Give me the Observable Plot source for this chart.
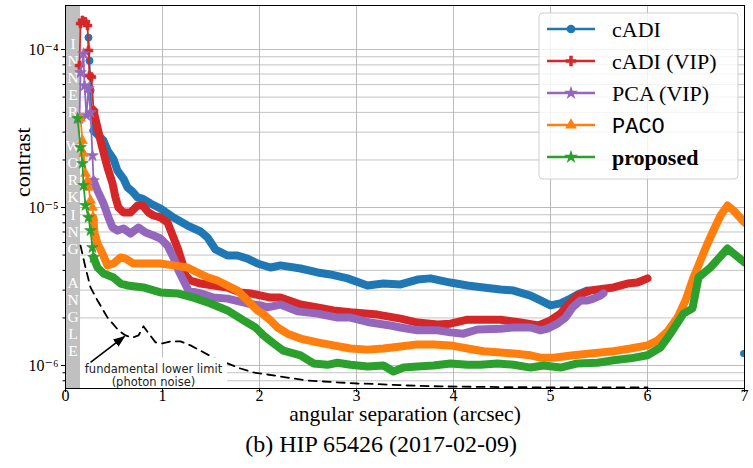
<!DOCTYPE html>
<html><head><meta charset="utf-8">
<script src="https://cdn.jsdelivr.net/npm/d3@7"></script>
<script src="https://cdn.jsdelivr.net/npm/@observablehq/plot@0.6"></script>
<style>body{margin:0;background:#fff}</style>
</head><body><div id="chart"></div>
<script>
// ---------- data ----------
const seriesNames = ["cADI", "cADI (VIP)", "PCA (VIP)", "PACO", "proposed"];
const seriesColors = ["#1f77b4", "#d62728", "#9467bd", "#ff7f0e", "#2ca02c"];
const seriesSymbols = ["circle", "cross", "star", "triangle", "star"];

const cadi = [[0.237,1.19e-4],[0.247,8.5e-5],[0.258,5.5e-5],[0.268,3.94e-5],[0.289,3.07e-5],[0.392,2.65e-5],[0.433,2.30e-5],[0.495,2.02e-5],[0.536,1.71e-5],[0.598,1.52e-5],[0.639,1.34e-5],[0.691,1.26e-5],[0.742,1.16e-5],[0.794,1.14e-5],[0.876,1.06e-5],[0.979,9.86e-6],[1.113,8.65e-6],[1.258,7.69e-6],[1.392,7.05e-6],[1.464,6.46e-6],[1.546,5.42e-6],[1.67,4.97e-6],[1.773,4.97e-6],[1.876,4.75e-6],[1.979,4.42e-6],[2.113,4.17e-6],[2.216,4.30e-6],[2.423,4.11e-6],[2.598,3.88e-6],[2.73,3.77e-6],[2.907,3.56e-6],[3.113,3.21e-6],[3.278,3.30e-6],[3.454,3.26e-6],[3.629,3.50e-6],[3.763,3.56e-6],[3.969,3.35e-6],[4.144,3.21e-6],[4.309,3.12e-6],[4.485,3.03e-6],[4.619,2.98e-6],[4.794,2.77e-6],[4.897,2.58e-6],[5.0,2.40e-6],[5.103,2.47e-6],[5.206,2.65e-6],[5.3,2.85e-6],[5.381,2.98e-6]];
const cadiStray = [[6.99,1.19e-6]];

const cadiVip = [[0.144,7.92e-5],[0.155,1.46e-4],[0.175,1.53e-4],[0.206,1.50e-4],[0.227,1.42e-4],[0.237,9.86e-5],[0.247,6.84e-5],[0.268,6.7e-5],[0.289,4.11e-5],[0.33,3.2e-5],[0.361,2.65e-5],[0.392,2.23e-5],[0.433,1.79e-5],[0.485,1.42e-5],[0.515,1.16e-5],[0.546,1.0e-5],[0.598,9.3e-6],[0.67,9.3e-6],[0.742,1.03e-5],[0.794,1.03e-5],[0.856,9.3e-6],[0.907,8.9e-6],[0.979,8.65e-6],[1.052,8.04e-6],[1.113,6.46e-6],[1.165,5.34e-6],[1.206,4.42e-6],[1.237,3.71e-6],[1.289,3.45e-6],[1.392,3.30e-6],[1.526,3.21e-6],[1.67,3.12e-6],[1.804,2.90e-6],[1.907,2.86e-6],[2.113,2.69e-6],[2.216,2.69e-6],[2.423,2.43e-6],[2.598,2.33e-6],[2.763,2.23e-6],[2.938,2.17e-6],[3.216,2.10e-6],[3.454,1.98e-6],[3.629,1.87e-6],[3.835,1.82e-6],[3.969,1.84e-6],[4.144,1.95e-6],[4.485,1.95e-6],[4.691,1.87e-6],[4.876,1.79e-6],[5.0,1.93e-6],[5.103,2.13e-6],[5.175,2.40e-6],[5.278,2.77e-6],[5.412,2.98e-6],[5.649,3.12e-6],[5.794,3.30e-6],[5.897,3.35e-6],[6.0,3.56e-6]];

const pcaVip = [[0.144,3.66e-5],[0.155,7.14e-5],[0.186,9.4e-5],[0.196,5.9e-5],[0.216,3.82e-5],[0.237,5.66e-5],[0.258,3.99e-5],[0.278,2.13e-5],[0.289,1.48e-5],[0.33,1.28e-5],[0.392,1.06e-5],[0.443,8.65e-6],[0.485,7.47e-6],[0.536,7.15e-6],[0.598,7.36e-6],[0.67,6.84e-6],[0.753,7.47e-6],[0.825,6.95e-6],[0.907,6.65e-6],[0.979,6.37e-6],[1.052,5.74e-6],[1.113,4.83e-6],[1.165,3.99e-6],[1.216,3.45e-6],[1.268,2.98e-6],[1.392,2.86e-6],[1.526,2.69e-6],[1.67,2.65e-6],[1.876,2.47e-6],[2.01,2.40e-6],[2.082,2.33e-6],[2.216,2.43e-6],[2.392,2.20e-6],[2.598,2.13e-6],[2.804,2.01e-6],[2.938,2.01e-6],[3.144,1.87e-6],[3.351,1.79e-6],[3.454,1.74e-6],[3.629,1.67e-6],[3.835,1.67e-6],[3.969,1.62e-6],[4.103,1.59e-6],[4.247,1.69e-6],[4.485,1.71e-6],[4.619,1.74e-6],[4.794,1.74e-6],[4.897,1.67e-6],[4.969,1.71e-6],[5.072,1.84e-6],[5.155,2.01e-6],[5.227,2.33e-6],[5.309,2.58e-6],[5.381,2.58e-6],[5.443,2.65e-6],[5.515,2.77e-6],[5.546,2.86e-6]];

const paco = [[0.155,3.66e-5],[0.175,2.65e-5],[0.186,2.20e-5],[0.206,1.64e-5],[0.227,1.48e-5],[0.237,1.34e-5],[0.258,1.11e-5],[0.278,1.0e-5],[0.285,8.65e-6],[0.30,6.84e-6],[0.33,5.92e-6],[0.381,5.12e-6],[0.433,4.30e-6],[0.495,4.42e-6],[0.567,4.83e-6],[0.619,4.75e-6],[0.701,4.42e-6],[0.845,4.42e-6],[0.979,4.42e-6],[1.113,4.30e-6],[1.258,4.17e-6],[1.361,3.88e-6],[1.464,3.61e-6],[1.567,3.45e-6],[1.67,3.21e-6],[1.773,2.98e-6],[1.876,2.58e-6],[1.979,2.23e-6],[2.031,2.13e-6],[2.113,1.93e-6],[2.186,1.74e-6],[2.289,1.59e-6],[2.423,1.48e-6],[2.598,1.40e-6],[2.763,1.34e-6],[2.938,1.28e-6],[3.113,1.26e-6],[3.278,1.28e-6],[3.454,1.32e-6],[3.629,1.36e-6],[3.794,1.36e-6],[3.969,1.34e-6],[4.144,1.28e-6],[4.309,1.23e-6],[4.485,1.21e-6],[4.619,1.19e-6],[4.794,1.16e-6],[4.897,1.12e-6],[5.031,1.12e-6],[5.237,1.16e-6],[5.412,1.19e-6],[5.649,1.23e-6],[5.825,1.28e-6],[6.0,1.34e-6],[6.103,1.44e-6],[6.206,1.64e-6],[6.309,2.01e-6],[6.392,2.58e-6],[6.474,3.61e-6],[6.546,4.62e-6],[6.619,5.92e-6],[6.68,7.15e-6],[6.753,8.9e-6],[6.825,1.03e-5],[6.887,9.57e-6],[7.0,8.04e-6]];

const proposed = [[0.124,3.66e-5],[0.155,2.40e-5],[0.175,1.90e-5],[0.186,1.38e-5],[0.206,1.03e-5],[0.237,8.65e-6],[0.258,7.15e-6],[0.278,5.58e-6],[0.289,4.83e-6],[0.33,4.17e-6],[0.392,3.82e-6],[0.495,3.61e-6],[0.567,3.30e-6],[0.639,3.21e-6],[0.804,3.12e-6],[0.979,2.90e-6],[1.155,2.86e-6],[1.32,2.69e-6],[1.495,2.47e-6],[1.67,2.23e-6],[1.835,1.93e-6],[1.959,1.74e-6],[2.041,1.55e-6],[2.144,1.38e-6],[2.247,1.24e-6],[2.423,1.16e-6],[2.557,1.03e-6],[2.701,1.01e-6],[2.804,1.04e-6],[2.938,1.01e-6],[3.113,9.85e-7],[3.278,1.0e-6],[3.381,9.16e-7],[3.485,9.7e-7],[3.629,9.85e-7],[3.794,1.0e-6],[3.969,1.03e-6],[4.144,1.01e-6],[4.278,1.01e-6],[4.454,1.03e-6],[4.619,1.01e-6],[4.794,9.7e-7],[4.928,1.0e-6],[5.103,9.7e-7],[5.278,1.03e-6],[5.485,1.04e-6],[5.649,1.08e-6],[5.825,1.11e-6],[6.0,1.16e-6],[6.134,1.30e-6],[6.237,1.59e-6],[6.371,2.13e-6],[6.464,2.30e-6],[6.526,3.61e-6],[6.649,4.17e-6],[6.825,5.5e-6],[7.0,4.49e-6]];

const photonNoise = [[0.155,5.74e-6],[0.206,4.17e-6],[0.258,3.12e-6],[0.33,2.58e-6],[0.433,2.01e-6],[0.546,1.67e-6],[0.619,1.55e-6],[0.691,1.50e-6],[0.753,1.55e-6],[0.804,1.77e-6],[0.856,1.60e-6],[0.928,1.40e-6],[1.0,1.38e-6],[1.08,1.42e-6],[1.186,1.42e-6],[1.289,1.34e-6],[1.392,1.24e-6],[1.526,1.12e-6],[1.67,1.03e-6],[1.804,9.57e-7],[1.938,9.03e-7],[2.08,8.77e-7],[2.216,8.52e-7],[2.35,8.27e-7],[2.495,8.04e-7],[2.66,7.92e-7],[2.835,7.8e-7],[3.01,7.69e-7],[3.175,7.64e-7],[3.526,7.47e-7],[3.866,7.37e-7],[4.48,7.3e-7],[5.0,7.26e-7],[6.0,7.26e-7]];

const innerWorkingAngle = 0.155;
const iwaLabel = "INNER WORKING ANGLE";
const xTicks = [0, 1, 2, 3, 4, 5, 6, 7];
const yMajorTicks = [1e-6, 1e-5, 1e-4];
const yMinorTicks = [8e-7, 9e-7, 2e-6, 3e-6, 4e-6, 5e-6, 6e-6, 7e-6, 8e-6, 9e-6, 2e-5, 3e-5, 4e-5, 5e-5, 6e-5, 7e-5, 8e-5, 9e-5];
const xDomain = [0, 7];
const yDomain = [7.15e-7, 1.9e-4];
const annotationLines = "fundamental lower limit\n(photon noise)";
const annotationAt = [0.907, 8.71e-7];
const annotationBox = [0.155, 1.67, 1.12e-6];
const arrowFrom = [0.258, 1.045e-6];
const arrowTo = [0.608, 1.526e-6];
const xLabel = "angular separation (arcsec)";
const yLabel = "contrast";
const caption = "(b) HIP 65426 (2017-02-09)";

// ---------- build ----------
const allSeries = [cadi, cadiVip, pcaVip, paco, proposed];
const serif = "'Liberation Serif', 'DejaVu Serif', serif";
const sup = {"-":"\u207B","0":"\u2070","1":"\u00B9","2":"\u00B2","3":"\u00B3","4":"\u2074","5":"\u2075","6":"\u2076","7":"\u2077","8":"\u2078","9":"\u2079"};
const fmtPow = d => "10" + String(Math.round(Math.log10(d))).split("").map(c => sup[c]).join("");

function filledHead(color, context) {
  const doc = (context && context.document) || document;
  const ns = "http://www.w3.org/2000/svg";
  const m = doc.createElementNS(ns, "marker");
  m.setAttribute("viewBox", "-11 -5 12 10");
  m.setAttribute("markerUnits", "userSpaceOnUse");
  m.setAttribute("markerWidth", "12");
  m.setAttribute("markerHeight", "10");
  m.setAttribute("orient", "auto");
  const p = doc.createElementNS(ns, "path");
  p.setAttribute("d", "M-11,-4.5L1,0L-11,4.5Z");
  p.setAttribute("fill", color);
  p.setAttribute("stroke", "none");
  m.appendChild(p);
  return m;
}

const seriesMarks = allSeries.map((s, i) => {
  const c = seriesColors[i];
  const thick = s.filter(d => d[0] >= 0.28);
  const early = s.filter(d => d[0] < 0.3);
  return [
    Plot.line(s, {x: d => d[0], y: d => d[1], stroke: c, strokeWidth: 1.8, clip: true}),
    Plot.line(thick, {x: d => d[0], y: d => d[1], stroke: c, strokeWidth: 8, strokeLinejoin: "round", strokeLinecap: "round", clip: true}),
    Plot.dot(early, {x: d => d[0], y: d => d[1], symbol: seriesSymbols[i], r: 3.6, fill: c, stroke: c, strokeWidth: 0.8, clip: true})
  ];
});

const chart = Plot.plot({
  width: 753,
  height: 468,
  marginLeft: 65,
  marginRight: 9,
  marginTop: 5,
  marginBottom: 80,
  style: {fontFamily: serif, fontSize: "16px", color: "black", background: "white"},
  x: {domain: xDomain, axis: null},
  y: {type: "log", domain: yDomain, axis: null},
  marks: [
    Plot.gridY(yMinorTicks, {stroke: "#b0b0b0", strokeOpacity: 0.75, strokeWidth: 1}),
    Plot.gridY(yMajorTicks, {stroke: "#b0b0b0", strokeOpacity: 0.85, strokeWidth: 1}),
    Plot.gridX(xTicks, {stroke: "#b0b0b0", strokeOpacity: 0.85, strokeWidth: 1}),
    Plot.rect([innerWorkingAngle], {x1: 0, x2: d => d, fill: "#c0c0c0"}),
    Plot.text([iwaLabel], {x: () => innerWorkingAngle / 2, frameAnchor: "middle", text: d => d.split("").join("\n"), lineHeight: 1.1, fontSize: 15.5, fill: "white", textAnchor: "middle", lineAnchor: "middle"}),
    Plot.line(photonNoise, {x: d => d[0], y: d => d[1], stroke: "black", strokeWidth: 1.8, strokeDasharray: "8,6"}),
    seriesMarks,
    Plot.dot(cadiStray, {x: d => d[0], y: d => d[1], r: 3.5, fill: seriesColors[0], clip: true}),
    Plot.rect([annotationBox], {x1: d => d[0], x2: d => d[1], y1: () => yDomain[0], y2: d => d[2], fill: "white"}),
    Plot.link([[arrowFrom, arrowTo]], {x1: d => d[0][0], y1: d => d[0][1], x2: d => d[1][0], y2: d => d[1][1], stroke: "black", strokeWidth: 1.6, markerEnd: filledHead}),
    Plot.text([annotationLines], {x: () => annotationAt[0], y: () => annotationAt[1], text: d => d, fontFamily: "'DejaVu Sans', sans-serif", fontSize: 11.5, lineHeight: 1.12, fill: "#222", lineAnchor: "middle"}),
    Plot.frame({stroke: "black", strokeWidth: 1}),
    Plot.axisX({ticks: xTicks, tickSize: 4, label: null, tickFormat: () => ""}),
    Plot.axisX({ticks: xTicks, tickSize: 0, tickPadding: 1, fontSize: 16, label: null, tickFormat: d => String(d)}),
    Plot.axisY({ticks: yMajorTicks, tickSize: 4, tickPadding: 3, fontSize: 16, label: null, tickFormat: fmtPow}),
    Plot.axisY({ticks: yMinorTicks, tickSize: 2.5, label: null, tickFormat: () => ""}),
    Plot.text([xLabel], {frameAnchor: "bottom", dy: 26, fontSize: 21.5, lineAnchor: "middle"}),
    Plot.text([yLabel], {frameAnchor: "left", dx: -43, rotate: -90, fontSize: 22, lineAnchor: "middle"}),
    Plot.text([caption], {frameAnchor: "bottom", dx: -24, dy: 56, fontSize: 24, lineAnchor: "middle"})
  ]
});

document.getElementById("chart").appendChild(chart);

// ---------- legend ----------
const svg = d3.select(chart.tagName.toLowerCase() === "svg" ? chart : chart.querySelector("svg"));
const lg = svg.append("g").attr("transform", "translate(539,13)").attr("text-anchor", "start");
lg.append("rect").attr("width", 199).attr("height", 166).attr("rx", 4)
  .attr("fill", "white").attr("fill-opacity", 0.8).attr("stroke", "#cfcfcf");
const d3sym = {circle: d3.symbolCircle, cross: d3.symbolCross, star: d3.symbolStar, triangle: d3.symbolTriangle};
const legendFonts = [
  {family: serif, weight: "normal"},
  {family: serif, weight: "normal"},
  {family: serif, weight: "normal"},
  {family: "'Liberation Mono', 'DejaVu Sans Mono', monospace", weight: "normal"},
  {family: serif, weight: "bold"}
];
seriesNames.forEach((name, i) => {
  const y = 16 + 32 * i;
  lg.append("line").attr("x1", 8).attr("x2", 56).attr("y1", y).attr("y2", y)
    .attr("stroke", seriesColors[i]).attr("stroke-width", 2.5);
  lg.append("path").attr("d", d3.symbol(d3sym[seriesSymbols[i]], 60)())
    .attr("transform", `translate(32,${y})`).attr("fill", seriesColors[i]);
  lg.append("text").attr("x", 73).attr("y", y).attr("dy", "0.35em")
    .attr("text-anchor", "start")
    .attr("font-family", legendFonts[i].family).attr("font-weight", legendFonts[i].weight)
    .attr("font-size", 22).attr("fill", "black").text(name);
});
</script>
</body></html>
